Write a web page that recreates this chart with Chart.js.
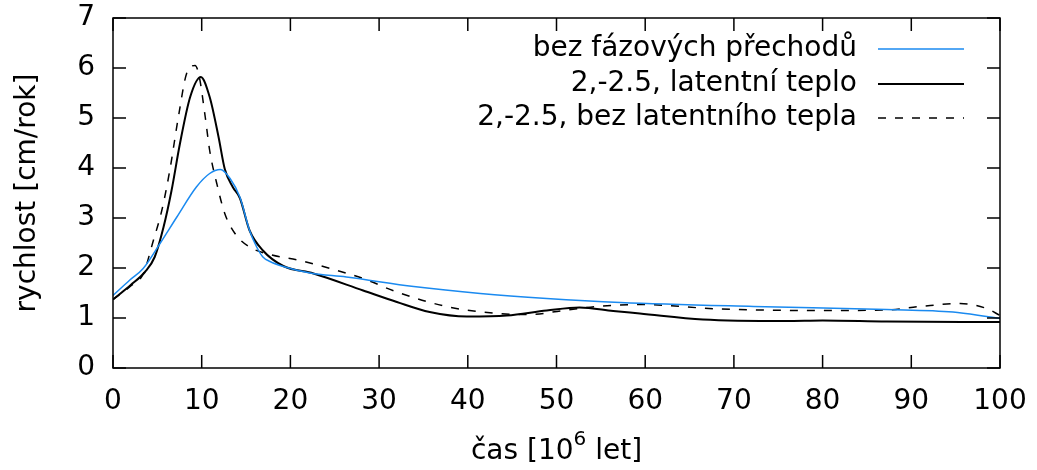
<!DOCTYPE html>
<html>
<head>
<meta charset="utf-8">
<script src="https://cdn.jsdelivr.net/npm/chart.js@4.4.1/dist/chart.umd.min.js"></script>
<style>
  html, body { margin: 0; padding: 0; background: #fff; }
  #wrap { width: 1037px; height: 470px; }
</style>
</head>
<body>
<div id="wrap"><canvas id="speedChart"></canvas></div>
<script>
const FONT = '"DejaVu Sans", sans-serif';

// bez fázových přechodů
const noPhaseX = [0, 1.9, 3.4, 5.3, 7.2, 9.4, 10.9, 12.1, 13.2, 14.3, 15.4, 16.2, 16.9, 17.7, 19.2, 22.2, 26.3, 33.9, 41.4, 48.9, 57.2, 72.2, 87.2, 94.7, 98.5, 100];
const noPhaseY = [1.45, 1.76, 1.99, 2.49, 3.02, 3.62, 3.89, 3.97, 3.79, 3.42, 2.75, 2.42, 2.22, 2.13, 2.03, 1.9, 1.82, 1.63, 1.49, 1.39, 1.31, 1.23, 1.17, 1.12, 1.03, 0.99];

// 2,-2.5, latentní teplo
const latentX = [0, 2, 3.6, 4.7, 5.7, 6.6, 7.55, 8.7, 9.9, 10.9, 11.9, 12.6, 13.5, 14.3, 15.4, 16.9, 19.2, 22.6, 28.2, 32, 35.7, 39.9, 44.4, 48.9, 52.6, 56.4, 59.4, 66.5, 75.9, 80, 87.2, 100];
const latentY = [1.37, 1.66, 1.92, 2.22, 2.82, 3.55, 4.49, 5.42, 5.82, 5.42, 4.62, 3.98, 3.62, 3.4, 2.75, 2.35, 2.04, 1.89, 1.55, 1.32, 1.12, 1.03, 1.05, 1.15, 1.21, 1.14, 1.09, 0.97, 0.94, 0.95, 0.93, 0.92];

// 2,-2.5, bez latentního tepla
const noLatentX = [0, 2, 3.4, 4.55, 5.5, 6.4, 7.37, 8.3, 9.25, 9.7, 10.4, 10.9, 11.7, 12.6, 13.75, 15.4, 17.7, 21.1, 24.5, 28.2, 32, 37.6, 43.3, 47, 50.8, 54.5, 59.4, 68.4, 79.7, 87.2, 91, 95.5, 98.5, 100];
const noLatentY = [1.37, 1.64, 1.88, 2.55, 3.15, 3.95, 5.02, 5.89, 6.05, 5.85, 5.02, 4.35, 3.69, 3.09, 2.69, 2.42, 2.27, 2.15, 1.99, 1.79, 1.52, 1.23, 1.09, 1.07, 1.15, 1.23, 1.27, 1.18, 1.15, 1.16, 1.23, 1.29, 1.19, 1.05];

const seriesLabels = ["bez fázových přechodů", "2,-2.5, latentní teplo", "2,-2.5, bez latentního tepla"];
const BLUE = "#1a8af0";

function toPoints(xs, ys) {
  return xs.map((x, i) => ({ x: x, y: ys[i] }));
}

// box, inward ticks on all four sides, legend and x title (gnuplot look)
const gnuplotFrame = {
  id: "gnuplotFrame",
  afterDraw(chart) {
    const ctx = chart.ctx;
    const a = chart.chartArea;
    const xs = chart.scales.x;
    const ys = chart.scales.y;
    const tick = 13;

    ctx.save();
    ctx.strokeStyle = "#000";
    ctx.lineWidth = 1.5;
    ctx.setLineDash([]);
    ctx.strokeRect(a.left, a.top, a.right - a.left, a.bottom - a.top);

    ctx.beginPath();
    xs.ticks.forEach(t => {
      const px = xs.getPixelForValue(t.value);
      ctx.moveTo(px, a.bottom); ctx.lineTo(px, a.bottom - tick);
      ctx.moveTo(px, a.top); ctx.lineTo(px, a.top + tick);
    });
    ys.ticks.forEach(t => {
      const py = ys.getPixelForValue(t.value);
      ctx.moveTo(a.left, py); ctx.lineTo(a.left + tick, py);
      ctx.moveTo(a.right, py); ctx.lineTo(a.right - tick, py);
    });
    ctx.stroke();

    // legend
    ctx.font = "28px " + FONT;
    ctx.fillStyle = "#000";
    ctx.textAlign = "right";
    ctx.textBaseline = "middle";
    const rowY = [49, 84, 118];
    chart.data.datasets.forEach((ds, i) => {
      ctx.fillText(seriesLabels[i], 857, rowY[i]);
      ctx.beginPath();
      ctx.strokeStyle = ds.borderColor;
      ctx.lineWidth = ds.borderWidth;
      ctx.setLineDash(ds.borderDash || []);
      ctx.moveTo(878, rowY[i]);
      ctx.lineTo(964, rowY[i]);
      ctx.stroke();
    });
    ctx.setLineDash([]);

    // x axis title with superscript
    const part1 = "čas [10";
    const sup = "6";
    const part2 = " let]";
    ctx.textAlign = "left";
    ctx.font = "28px " + FONT;
    const w1 = ctx.measureText(part1).width;
    const w3 = ctx.measureText(part2).width;
    ctx.font = "20px " + FONT;
    const w2 = ctx.measureText(sup).width;
    let x0 = (a.left + a.right) / 2 - (w1 + w2 + w3) / 2;
    const ty = 452;
    ctx.font = "28px " + FONT;
    ctx.fillText(part1, x0, ty);
    ctx.font = "20px " + FONT;
    ctx.fillText(sup, x0 + w1, ty - 12);
    ctx.font = "28px " + FONT;
    ctx.fillText(part2, x0 + w1 + w2, ty);
    ctx.restore();
  }
};

new Chart(document.getElementById("speedChart"), {
  type: "line",
  data: {
    datasets: [
      { label: seriesLabels[0], data: toPoints(noPhaseX, noPhaseY), borderColor: BLUE, borderWidth: 1.5 },
      { label: seriesLabels[1], data: toPoints(latentX, latentY), borderColor: "#000", borderWidth: 2 },
      { label: seriesLabels[2], data: toPoints(noLatentX, noLatentY), borderColor: "#000", borderWidth: 1.5, borderDash: [8, 9] }
    ]
  },
  options: {
    responsive: true,
    maintainAspectRatio: false,
    animation: false,
    devicePixelRatio: 1,
    layout: { padding: { top: 18, right: 37, left: 0, bottom: 0 } },
    elements: {
      point: { radius: 0 },
      line: { cubicInterpolationMode: "monotone", fill: false }
    },
    plugins: {
      legend: { display: false },
      tooltip: { enabled: false }
    },
    scales: {
      x: {
        type: "linear",
        min: 0,
        max: 100,
        ticks: { stepSize: 10, color: "#000", font: { family: FONT, size: 28 }, padding: 17, maxRotation: 0 },
        grid: { display: false, drawTicks: false },
        border: { display: false },
        afterFit(scale) {
          scale.height = 102;
          scale.paddingLeft = 0;
          scale.paddingRight = 0;
        }
      },
      y: {
        min: 0,
        max: 7,
        ticks: { stepSize: 1, color: "#000", font: { family: FONT, size: 28 }, padding: 18 },
        grid: { display: false, drawTicks: false },
        border: { display: false },
        title: {
          display: true,
          text: "rychlost [cm/rok]",
          color: "#000",
          font: { family: FONT, size: 28 },
          padding: { top: 11, bottom: 0 }
        },
        afterFit(scale) {
          scale.width = 113;
          scale.paddingTop = 0;
          scale.paddingBottom = 0;
        }
      }
    }
  },
  plugins: [gnuplotFrame]
});
</script>
</body>
</html>
